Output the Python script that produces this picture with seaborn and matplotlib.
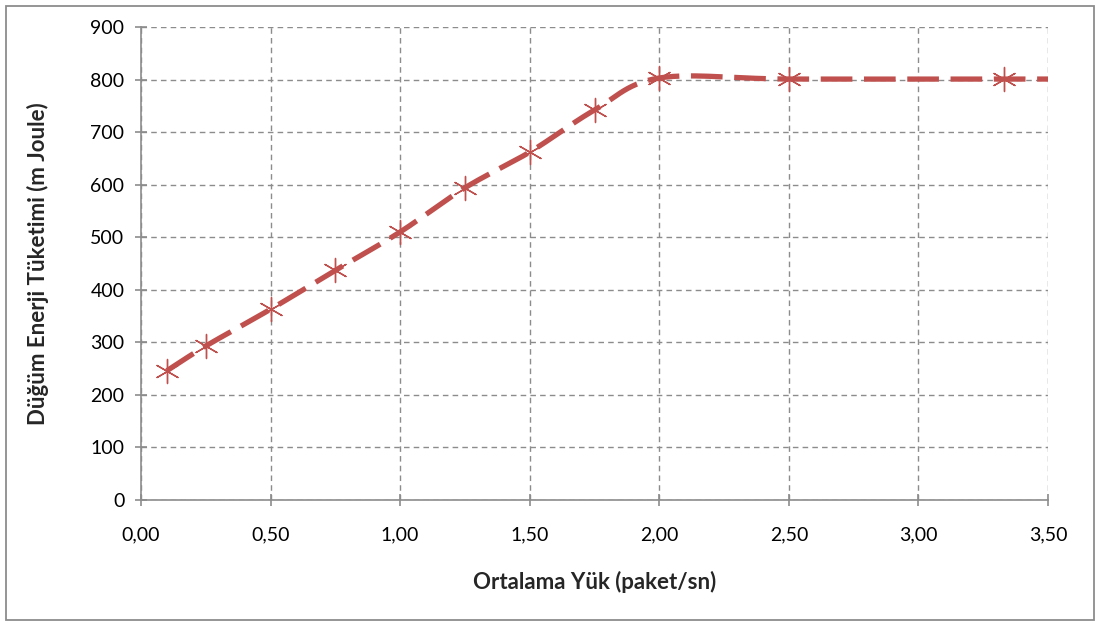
import numpy as np
import pandas as pd
import matplotlib
matplotlib.use("Agg")
import matplotlib.pyplot as plt
import seaborn as sns
from matplotlib.patches import Rectangle

# ---- data ----
load = [0.10, 0.25, 0.50, 0.75, 1.00, 1.25, 1.50, 1.75, 2.00, 2.50, 3.33, 4.00]
energy = [246, 293, 363, 437, 510, 594, 662, 742, 803, 801, 801, 801]
xticks = [0.0, 0.5, 1.0, 1.5, 2.0, 2.5, 3.0, 3.5]
xtick_labels = ["0,00", "0,50", "1,00", "1,50", "2,00", "2,50", "3,00", "3,50"]
yticks = [0, 100, 200, 300, 400, 500, 600, 700, 800, 900]

sns.set_theme(style="white")
plt.rcParams['font.family'] = ['Lato', 'DejaVu Sans']

RED = "#C0504D"
GRID = "#8C8C8C"

def smooth(xs, ys, n=30):
    # Excel-like smoothed line (Catmull-Rom Bezier through data points)
    xs = np.asarray(xs, float); ys = np.asarray(ys, float)
    px = np.concatenate([[xs[0]], xs, [xs[-1]]])
    py = np.concatenate([[ys[0]], ys, [ys[-1]]])
    ox, oy = [], []
    t = np.linspace(0, 1, n)
    for i in range(1, len(px) - 2):
        p0 = np.array([px[i], py[i]]); p3 = np.array([px[i + 1], py[i + 1]])
        c1 = p0 + (np.array([px[i + 1], py[i + 1]]) - np.array([px[i - 1], py[i - 1]])) / 6
        c2 = p3 - (np.array([px[i + 2], py[i + 2]]) - np.array([px[i], py[i]])) / 6
        b = ((1 - t) ** 3)[:, None] * p0 + (3 * (1 - t) ** 2 * t)[:, None] * c1 \
            + (3 * (1 - t) * t ** 2)[:, None] * c2 + (t ** 3)[:, None] * p3
        ox.extend(b[:, 0]); oy.extend(b[:, 1])
    return ox, oy

fig = plt.figure(figsize=(11.01, 6.26), dpi=100)
ax = fig.add_axes([141 / 1101, 1 - 500 / 626, (1048 - 141) / 1101, (500 - 27) / 626])

sx, sy = smooth(load, energy)
curve = pd.DataFrame({"x": sx, "y": sy})
sns.lineplot(data=curve, x="x", y="y", sort=False, ax=ax, color=RED, linewidth=3.8,
             dashes=False, zorder=3)
ln = ax.lines[-1]
ln.set_dashes((6, 2.2))
ln.set_dash_capstyle("butt")

pts = pd.DataFrame({"x": load, "y": energy})
sns.scatterplot(data=pts, x="x", y="y", ax=ax, marker=(6, 2, 0), s=300, color=RED,
                linewidth=1.0, edgecolor=RED, zorder=4, clip_on=True)

ax.set_xlim(0, 3.5)
ax.set_ylim(0, 900)
ax.set_xticks(xticks)
ax.set_xticklabels(xtick_labels)
ax.set_yticks(yticks)
ax.grid(True, color=GRID, linestyle=(0, (4, 3)), linewidth=1.0)
for s in ["top", "right"]:
    ax.spines[s].set_visible(False)
for s in ["left", "bottom"]:
    ax.spines[s].set_color(GRID)
    ax.spines[s].set_linewidth(1.2)
ax.tick_params(axis="both", which="major", direction="inout", length=8, width=1.2,
               color=GRID, labelsize=14, labelcolor="black", left=True, bottom=True)
ax.tick_params(axis="x", pad=15)
ax.tick_params(axis="y", pad=8)
ax.set_xlabel("Ortalama Yük (paket/sn)", fontsize=16, fontweight="bold", labelpad=20)
ax.set_ylabel("Düğüm Enerji Tüketimi (m Joule)", fontsize=16, fontweight="bold", labelpad=30)

fig.patches.append(Rectangle((6 / 1101, 6 / 626), 1088 / 1101, 614 / 626,
                             transform=fig.transFigure, fill=False,
                             edgecolor="#8C8C8C", linewidth=1.3))

fig.savefig("out.png", dpi=100)
